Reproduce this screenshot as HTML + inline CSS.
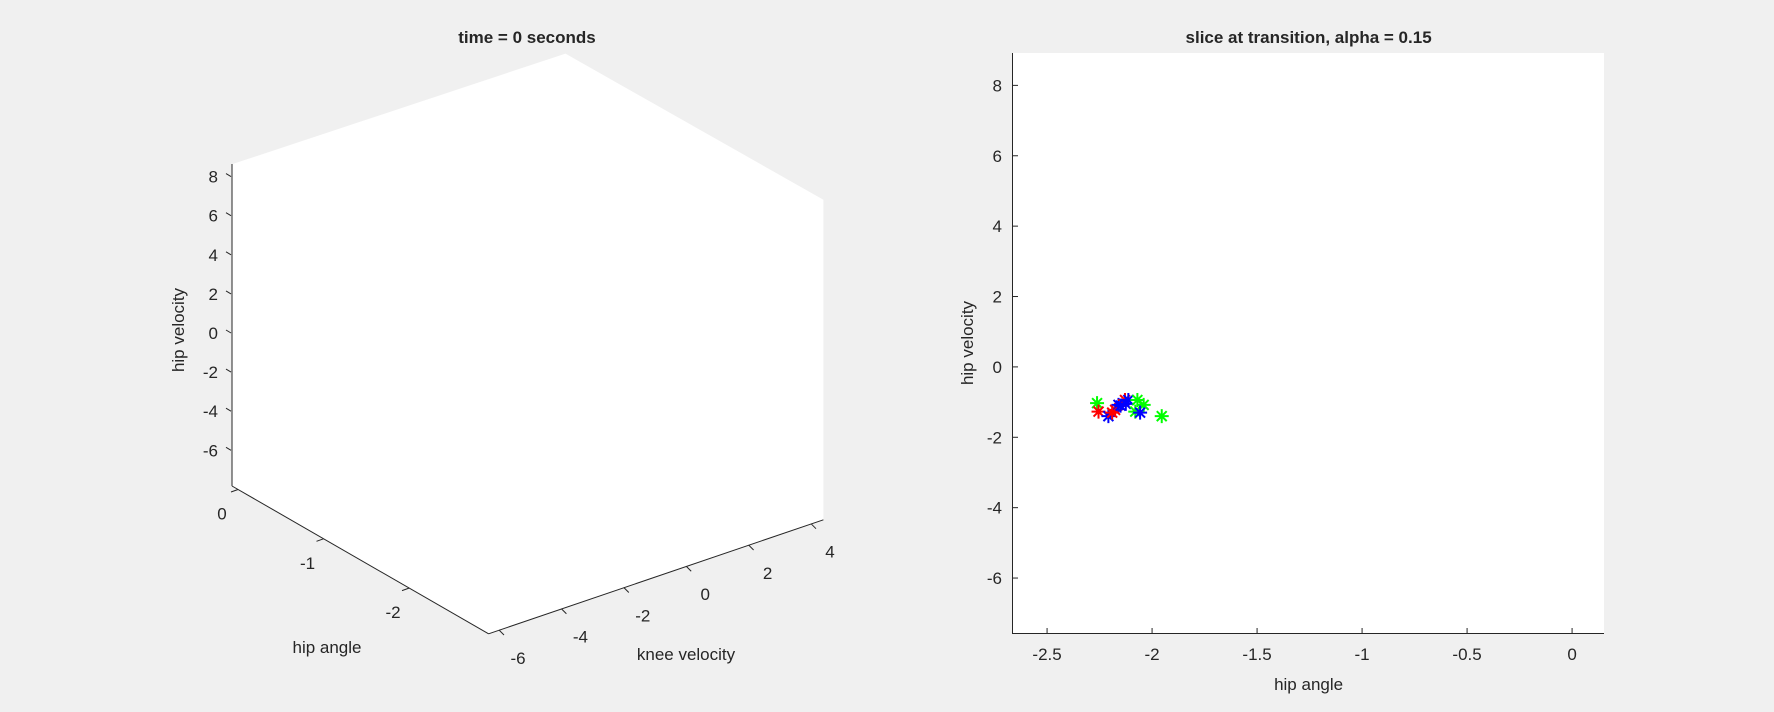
<!DOCTYPE html>
<html><head><meta charset="utf-8"><style>
html,body{margin:0;padding:0;background:#f0f0f0;}
svg{display:block;font-family:"Liberation Sans",Arial,sans-serif;}
text{fill:#262626;font-size:17px;}
</style></head><body>
<svg id="fig" width="1774" height="712" viewBox="0 0 1774 712">
<rect width="1774" height="712" fill="#f0f0f0"/>
<g>
<polygon points="565.5,53.6 231.9,164.3 231.9,485.8 488.6,633.8 823.4,519.8 823.4,199.8" fill="#fff"/>
<line x1="232" y1="164" x2="232" y2="486" stroke="#262626" stroke-width="1"/>
<line x1="232" y1="486" x2="488.6" y2="633.8" stroke="#262626" stroke-width="1"/>
<line x1="488.6" y1="633.8" x2="823.4" y2="519.8" stroke="#262626" stroke-width="1"/>
<g id="ticks3d"></g>
<text x="527" y="43" text-anchor="middle" font-weight="bold">time = 0 seconds</text>
<text transform="translate(184,330) rotate(-90)" text-anchor="middle">hip velocity</text>
<text x="327" y="653" text-anchor="middle">hip angle</text>
<text x="686" y="660" text-anchor="middle">knee velocity</text>
</g>
<g>
<rect x="1012" y="53" width="592" height="581" fill="#fff"/>
<line x1="1012.5" y1="53" x2="1012.5" y2="634" stroke="#262626"/>
<line x1="1012" y1="633.5" x2="1604" y2="633.5" stroke="#262626"/>
<g id="ticks2d"></g>
<g id="points"></g>
<text x="1308.6" y="43" text-anchor="middle" font-weight="bold">slice at transition, alpha = 0.15</text>
<text transform="translate(973,343) rotate(-90)" text-anchor="middle">hip velocity</text>
<text x="1308.6" y="690" text-anchor="middle">hip angle</text>
</g>
</svg>
<script>
const NS="http://www.w3.org/2000/svg";
const xTicks=[-2.5,-2,-1.5,-1,-0.5,0];
const xTickLabels=["-2.5","-2","-1.5","-1","-0.5","0"];
const yTicks=[-6,-4,-2,0,2,4,6,8];
const yTickLabels=["-6","-4","-2","0","2","4","6","8"];
const zTicks3d=[-6,-4,-2,0,2,4,6,8];
const hipTicks3d=[0,-1,-2];
const kneeTicks3d=[-6,-4,-2,0,2,4];
const ptX=[-2.262,-2.255,-2.208,-2.176,-2.16,-2.129,-2.113,-2.125,-2.07,-2.04,-2.08,-2.057,-1.954,-2.19,-2.15];
const ptY=[-1.03,-1.27,-1.40,-1.22,-1.08,-0.94,-0.94,-1.05,-0.94,-1.08,-1.27,-1.30,-1.40,-1.30,-1.10];
const ptColor=["#00ff00","#ff0000","#0000ff","#ff0000","#0000ff","#ff0000","#0000ff","#0000ff","#00ff00","#00ff00","#00ff00","#0000ff","#00ff00","#ff0000","#0000ff"];
const xmin=-2.667,xmax=0.152,ymin=-7.59,ymax=8.92;
const X=v=>1012+(v-xmin)/(xmax-xmin)*592;
const Y=v=>634-(v-ymin)/(ymax-ymin)*581;
function mk(tag,attrs,parent){const e=document.createElementNS(NS,tag);for(const k in attrs)e.setAttribute(k,attrs[k]);parent.appendChild(e);return e;}
const t2=document.getElementById('ticks2d');
xTicks.forEach((v,i)=>{
  const l=mk('line',{x1:X(v),x2:X(v),y1:634,y2:628,stroke:'#262626'},t2);
  
  
  const t=mk('text',{x:X(v),y:660,'text-anchor':'middle'},t2);t.textContent=xTickLabels[i];
  
  
});
yTicks.forEach((v,i)=>{
  const l=mk('line',{x1:1012,x2:1018,y1:Y(v),y2:Y(v),stroke:'#262626'},t2);
  
  
  const t=mk('text',{x:1002,y:Y(v)+6,'text-anchor':'end'},t2);t.textContent=yTickLabels[i];
  
  
});
const pg=document.getElementById('points');
ptX.forEach((v,i)=>{
  const cx=X(v),cy=Y(ptY[i]),r=7;let d='';
  for(let k=0;k<4;k++){const a=k*Math.PI/4;d+=`M${cx-r*Math.cos(a)},${cy-r*Math.sin(a)}L${cx+r*Math.cos(a)},${cy+r*Math.sin(a)}`;}
  const p=mk('path',{d:d,stroke:ptColor[i],'stroke-width':2,fill:'none'},pg);
  
  
});
const t3=document.getElementById('ticks3d');
const Z=v=>333-v*19.55;
zTicks3d.forEach(v=>{
  const l=mk('line',{x1:226,y1:Z(v)-3,x2:231,y2:Z(v),stroke:'#262626'},t3);
  
  
  const t=mk('text',{x:218,y:Z(v)+6,'text-anchor':'end'},t3);t.textContent=String(v);
  
  
});
const H=v=>({x:238-v*85.5,y:489.5-v*49.3});
hipTicks3d.forEach(v=>{
  const p=H(v);
  const l=mk('line',{x1:p.x,y1:p.y,x2:p.x-7,y2:p.y+2.5,stroke:'#262626'},t3);
  
  
  const t=mk('text',{x:p.x-16,y:p.y+30,'text-anchor':'middle'},t3);t.textContent=String(v);
  
  
});
const K=v=>({x:499+(v+6)*31.2,y:630-(v+6)*10.63});
kneeTicks3d.forEach(v=>{
  const p=K(v);
  const l=mk('line',{x1:p.x,y1:p.y,x2:p.x+5,y2:p.y+5,stroke:'#262626'},t3);
  
  
  const t=mk('text',{x:p.x+19,y:p.y+34,'text-anchor':'middle'},t3);t.textContent=String(v);
  
  
});
</script>
</body></html>
